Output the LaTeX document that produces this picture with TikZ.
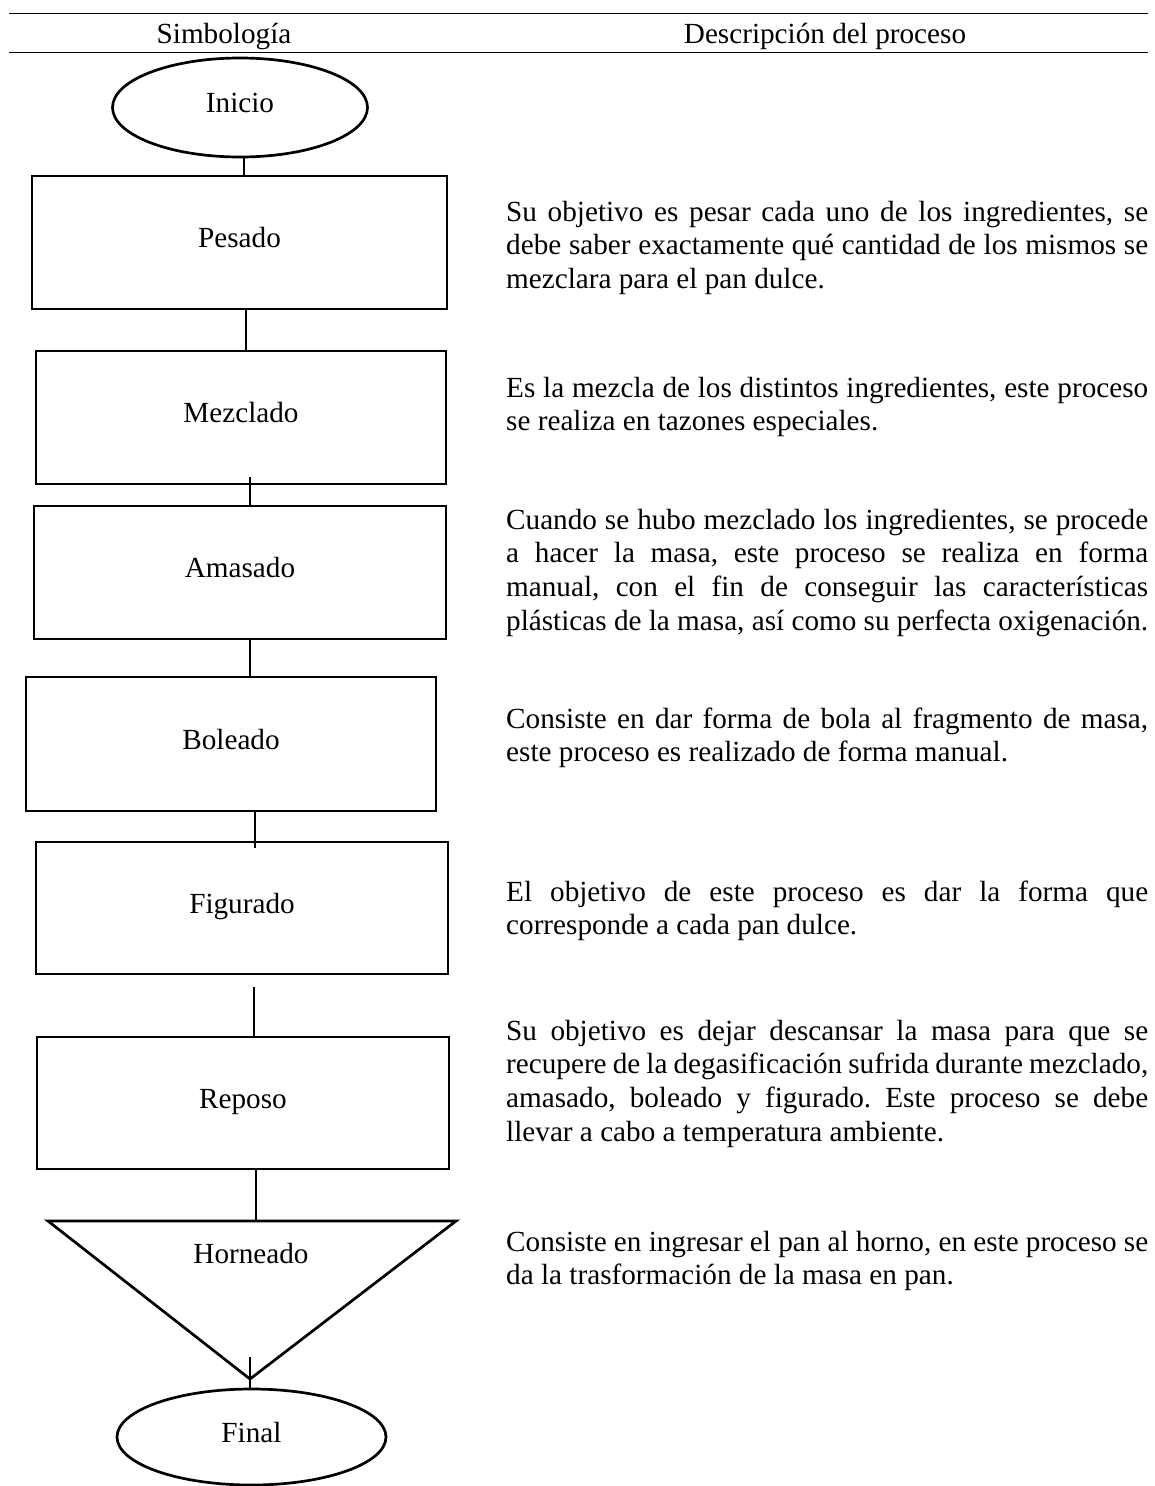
\documentclass[tikz,border=0pt]{standalone}
\usepackage{fontspec}
\setmainfont{Liberation Serif}
\usetikzlibrary{shapes.geometric,calc}
\newcommand{\fs}{\fontsize{29.2}{33.6}\selectfont\frenchspacing}
\newcommand{\firstline}{\rule{0pt}{24pt}}
\begin{document}
\begin{tikzpicture}[x=1pt,y=-1pt,
  rulel/.style={line width=1.3pt},
  hdr/.style={font=\fs, inner sep=0pt, anchor=base},
  procbox/.style={draw, line width=2.7pt, font=\fs, text height=20pt, text depth=10pt, inner sep=0pt},
  termel/.style={draw, ellipse, line width=2.7pt, font=\fs, text height=20pt, text depth=10pt, inner sep=0pt},
  conn/.style={line width=2.6pt},
  desc/.style={font=\fs, text width=642pt, align=justify, inner sep=0pt, anchor=north west}]
\useasboundingbox (0,0) rectangle (1154,1486);
% header rules
\coordinate (r1l) at (9,13.5);
\coordinate (r1r) at (1148,13.5);
\coordinate (r2l) at (9,52.5);
\coordinate (r2r) at (1148,52.5);
\draw[rulel] (r1l) -- (r1r);
\draw[rulel] (r2l) -- (r2r);
\node[hdr] (h1) at (224,43) {Simbología};
\node[hdr] (h2) at (825,43) {Descripción del proceso};
% flow symbols
\node[termel, minimum width=255pt, minimum height=99pt] (ini) at (240,107.5) {Inicio};
\node[procbox, minimum width=415pt, minimum height=133pt] (pes) at (239.5,242.5) {Pesado};
\node[procbox, minimum width=410pt, minimum height=133pt] (mez) at (241,417.5) {Mezclado};
\node[procbox, minimum width=412pt, minimum height=133pt] (ama) at (240,572.5) {Amasado};
\node[procbox, minimum width=410pt, minimum height=134pt] (bol) at (231,744) {Boleado};
\node[procbox, minimum width=412pt, minimum height=132pt] (fig) at (242,908) {Figurado};
\node[procbox, minimum width=412pt, minimum height=132pt] (rep) at (243,1103) {Reposo};
\coordinate (hl) at (48,1221);
\coordinate (hr) at (456,1221);
\coordinate (ha) at (250,1379);
\draw[line width=2.7pt, line join=miter] (hl) -- (hr) -- (ha) -- cycle;
\node[font=\fs, inner sep=0pt] (hor) at (251,1253) {Horneado};
\node[termel, minimum width=269pt, minimum height=96pt] (fin) at (251.5,1437) {Final};
\coordinate (hstub) at (250,1357);
% connectors
\draw[conn] ($(ini.south)+(4,0)$) -- ($(ini.south |- pes.north)+(4,0)$);
\draw[conn] ($(pes.south)+(6.5,0)$) -- ($(pes.south |- mez.north)+(6.5,0)$);
\draw[conn] ($(mez.south)+(9,-8)$) -- ($(mez.south |- ama.north)+(9,0)$);
\draw[conn] ($(ama.south)+(10,0)$) -- ($(ama.south |- bol.north)+(10,2)$);
\draw[conn] ($(bol.south)+(24,0)$) -- ($(bol.south |- fig.north)+(24,7)$);
\draw[conn] ($(fig.south)+(12,12)$) -- ($(fig.south |- rep.north)+(12,0)$);
\draw[conn] ($(rep.south)+(13,0)$) -- ($(rep.south |- hl)+(13,0)$);
\draw[conn] (hstub) -- (hstub |- fin.north);
% descriptions
\node[desc] (d1) at (506,197) {\firstline Su objetivo es pesar cada uno de los ingredientes, se\linebreak debe saber exactamente qué cantidad de los mismos se\linebreak mezclara para el pan dulce.};
\node[desc] (d2) at (506,373) {\firstline Es la mezcla de los distintos ingredientes, este proceso\linebreak se realiza en tazones especiales.};
\node[desc] (d3) at (506,505) {\firstline Cuando se hubo mezclado los ingredientes, se procede\linebreak a hacer la masa, este proceso se realiza en forma\linebreak manual, con el fin de conseguir las características\linebreak plásticas de la masa, así como su perfecta oxigenación.};
\node[desc] (d4) at (506,704) {\firstline Consiste en dar forma de bola al fragmento de masa,\linebreak este proceso es realizado de forma manual.};
\node[desc] (d5) at (506,877) {\firstline El objetivo de este proceso es dar la forma que\linebreak corresponde a cada pan dulce.};
\node[desc] (d6) at (506,1016) {\firstline Su objetivo es dejar descansar la masa para que se\linebreak recupere de la degasificación sufrida durante mezclado,\linebreak amasado, boleado y figurado. Este proceso se debe\linebreak llevar a cabo a temperatura ambiente.};
\node[desc] (d7) at (506,1227) {\firstline Consiste en ingresar el pan al horno, en este proceso se\linebreak da la trasformación de la masa en pan.};
\end{tikzpicture}
\end{document}
